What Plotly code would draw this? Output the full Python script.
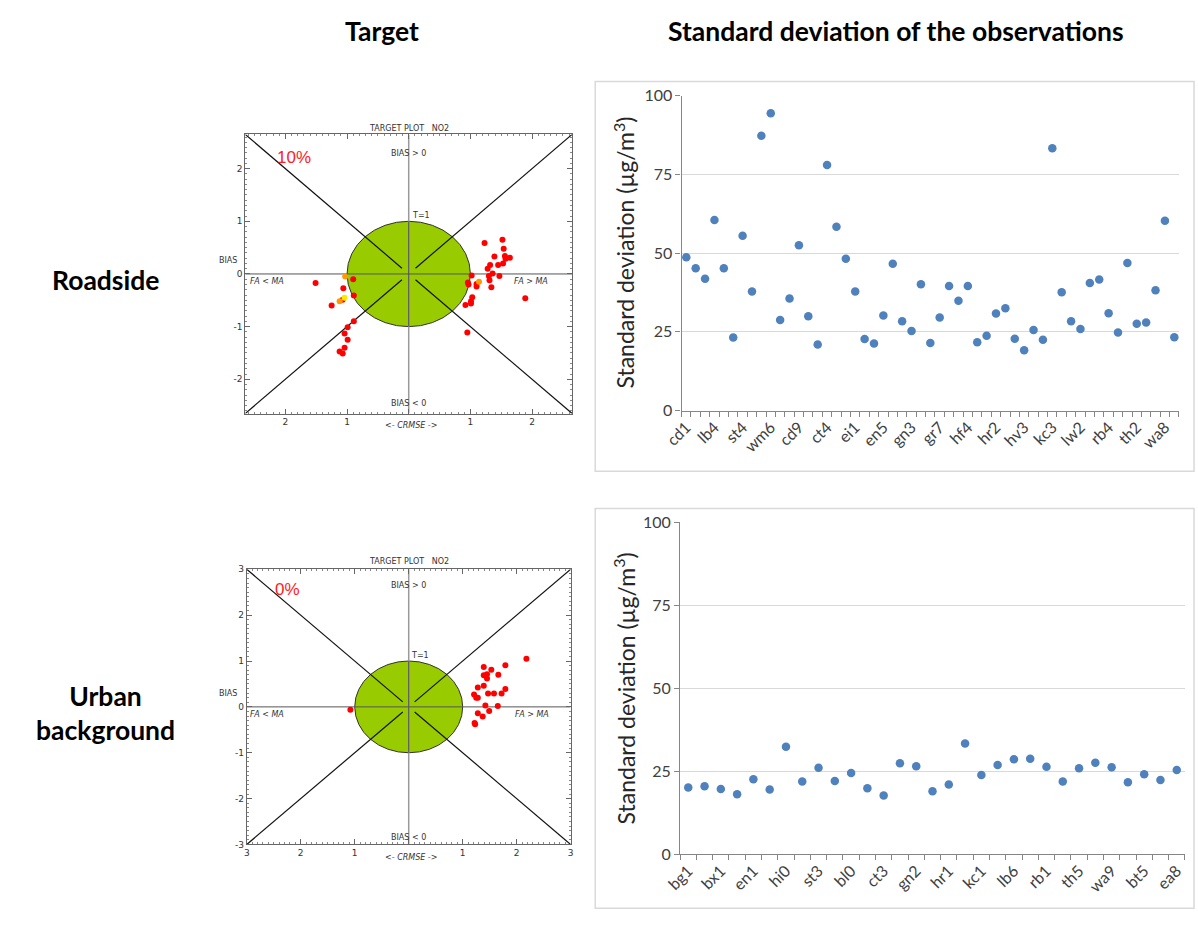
import plotly.graph_objects as go

W, H = 1198, 925


def fx(p):
    return p / W


def fy(p):
    return 1 - p / H


# ---------------- Data ----------------
# Roadside target plot (CRMSE signed, BIAS)
rs_red_x = [-1.51, -0.90, -1.06, -0.89, -1.07, -1.25, -0.89, -0.99, -1.04, -0.99, -1.04, -1.12, -1.07,
            1.23, 1.52, 1.54, 1.39, 1.56, 1.57, 1.64, 1.53, 1.45, 1.32, 1.28, 1.36, 1.30, 1.47, 1.02,
            1.31, 1.34, 1.10, 1.10, 0.96, 0.97, 1.03, 1.01, 1.01, 0.92, 1.89, 0.95]
rs_red_y = [-0.17, -0.10, -0.27, -0.41, -0.49, -0.60, -0.90, -1.01, -1.13, -1.25, -1.40, -1.47, -1.51,
            0.59, 0.65, 0.48, 0.33, 0.34, 0.29, 0.31, 0.20, 0.17, 0.17, 0.10, 0.01, -0.04, -0.04, -0.03,
            -0.12, -0.25, -0.19, -0.24, -0.16, -0.20, -0.44, -0.52, -0.56, -0.59, -0.46, -1.11]
rs_orange_x = [-1.03, -1.12, 1.14]
rs_orange_y = [-0.05, -0.52, -0.15]
rs_yellow_x = [-1.04]
rs_yellow_y = [-0.45]

# Urban background target plot
ub_red_x = [-1.08, 2.18, 1.79, 1.39, 1.53, 1.45, 1.39, 1.45, 1.66, 1.39, 1.28, 1.79, 1.21, 1.25,
            1.28, 1.47, 1.58, 1.72, 1.42, 1.65, 1.49, 1.28, 1.37, 1.22, 1.23]
ub_red_y = [-0.06, 1.05, 0.91, 0.87, 0.81, 0.71, 0.69, 0.62, 0.70, 0.46, 0.42, 0.39, 0.27, 0.20,
            0.20, 0.29, 0.29, 0.29, 0.03, 0.02, -0.09, -0.14, -0.21, -0.35, -0.38]

# Roadside standard deviation of observations
rs_tick_labels = ["cd1", "lb4", "st4", "wm6", "cd9", "ct4", "ei1", "en5", "gn3", "gr7",
                  "hf4", "hr2", "hv3", "kc3", "lw2", "rb4", "th2", "wa8"]
rs_sd = [48.7, 45.2, 41.9, 60.5, 45.2, 23.2, 55.5, 37.8, 87.3, 94.4,
         28.8, 35.6, 52.5, 30.0, 21.0, 78.0, 58.4, 48.2, 37.8, 22.7,
         21.3, 30.2, 46.6, 28.4, 25.3, 40.1, 21.5, 29.6, 39.6, 34.9,
         39.6, 21.7, 23.8, 30.8, 32.5, 22.8, 19.2, 25.6, 22.5, 83.3,
         37.6, 28.4, 25.9, 40.5, 41.6, 30.9, 24.8, 46.9, 27.6, 28.0,
         38.2, 60.3, 23.3]
rs_label_step = 3

# Urban background standard deviation of observations
ub_tick_labels = ["bg1", "bx1", "en1", "hi0", "st3", "bl0", "ct3", "gn2", "hr1", "kc1",
                  "lb6", "rb1", "th5", "wa9", "bt5", "ea8"]
ub_sd = [20.1, 20.5, 19.7, 18.1, 22.6, 19.5, 32.4, 21.9, 26.1, 22.1,
         24.5, 19.9, 17.7, 27.4, 26.5, 19.0, 21.0, 33.4, 23.9, 26.9,
         28.6, 28.8, 26.4, 21.9, 25.9, 27.6, 26.2, 21.7, 24.1, 22.4,
         25.4]
ub_label_step = 2

# ---------------- Figure ----------------
fig = go.Figure()

RED = "#FF0000"
ORANGE = "#FF9900"
YELLOW = "#FFE800"
BLUE = "#4F81BD"

# target traces
for xs, ys, c, ax in [(rs_red_x, rs_red_y, RED, ("x", "y")),
                      (rs_orange_x, rs_orange_y, ORANGE, ("x", "y")),
                      (rs_yellow_x, rs_yellow_y, YELLOW, ("x", "y")),
                      (ub_red_x, ub_red_y, RED, ("x2", "y2"))]:
    fig.add_trace(go.Scatter(x=xs, y=ys, mode="markers", xaxis=ax[0], yaxis=ax[1],
                             marker=dict(color=c, size=6, line=dict(width=0)),
                             showlegend=False, hoverinfo="skip"))

# std dev traces
fig.add_trace(go.Scatter(x=list(range(len(rs_sd))), y=rs_sd, mode="markers", xaxis="x3", yaxis="y3",
                         marker=dict(color=BLUE, size=8.5), showlegend=False))
fig.add_trace(go.Scatter(x=list(range(len(ub_sd))), y=ub_sd, mode="markers", xaxis="x4", yaxis="y4",
                         marker=dict(color=BLUE, size=8.5), showlegend=False))

shapes = []
annotations = []


def target_axes(R, ticks, xdom, ydom):
    xa = dict(domain=[fx(xdom[0]), fx(xdom[1])], range=[-R, R], showgrid=False, zeroline=False,
              showline=True, linecolor="#666", linewidth=1, mirror="ticks",
              ticks="inside", ticklen=5, tickcolor="#666",
              tickvals=ticks, ticktext=[str(abs(t)) if t != 0 else "" for t in ticks],
              tickfont=dict(family="DejaVu Sans", size=9, color="#333"),
              minor=dict(tickmode="linear", tick0=0, dtick=0.1, ticks="inside", ticklen=2, tickcolor="#888"),
              fixedrange=True)
    ya = dict(domain=[fy(ydom[1]), fy(ydom[0])], range=[-R, R], showgrid=False, zeroline=False,
              showline=True, linecolor="#666", linewidth=1, mirror="ticks",
              ticks="inside", ticklen=5, tickcolor="#666",
              tickvals=ticks, ticktext=[str(t) for t in ticks],
              tickfont=dict(family="DejaVu Sans", size=9, color="#333"),
              minor=dict(tickmode="linear", tick0=0, dtick=0.1, ticks="inside", ticklen=2, tickcolor="#888"),
              fixedrange=True)
    return xa, ya


def target_shapes(R, xr, yr):
    s = []
    s.append(dict(type="circle", xref=xr, yref=yr, x0=-1, x1=1, y0=-1, y1=1,
                  fillcolor="#99CC00", line=dict(color="#333", width=1), layer="below"))
    s.append(dict(type="line", xref=xr, yref=yr, x0=0, x1=0, y0=-R, y1=R,
                  line=dict(color="#9a9a9a", width=1.5), layer="below"))
    s.append(dict(type="line", xref=xr, yref=yr, x0=0, x1=0, y0=-1, y1=1,
                  line=dict(color="#555", width=1), layer="below"))
    s.append(dict(type="line", xref=xr, yref=yr, x0=-R, x1=R, y0=0, y1=0,
                  line=dict(color="#555", width=1), layer="below"))
    g = 0.11
    for sx, sy in [(-1, 1), (1, 1), (-1, -1), (1, -1)]:
        s.append(dict(type="line", xref=xr, yref=yr, x0=sx * R, y0=sy * R, x1=sx * g, y1=sy * g,
                      line=dict(color="#111", width=1.2), layer="below"))
    return s


def small_txt(x, y, text, xr, yr, size=8, color="#333", italic=False, family="DejaVu Sans"):
    return dict(x=x, y=y, xref=xr, yref=yr, text=text, showarrow=False,
                xanchor="center", yanchor="middle",
                font=dict(family=family, size=size, color=color,
                          style="italic" if italic else "normal"))


def paper_txt(px, py, text, size=8, color="#333", family="DejaVu Sans", bold=False, angle=0, italic=False):
    return dict(x=fx(px), y=fy(py), xref="paper", yref="paper", text=text, showarrow=False,
                textangle=angle, xanchor="center", yanchor="middle",
                font=dict(family=family, size=size, color=color, weight="bold" if bold else "normal",
                          style="italic" if italic else "normal"))


# Target 1 (roadside)
R1 = 2.65
xa1, ya1 = target_axes(R1, [-2, -1, 0, 1, 2], (230.5, 563.5), (127, 412))
shapes += target_shapes(R1, "x", "y")
annotations += [
    small_txt(-1.86, 2.22, "10%", "x", "y", size=17, color="#FF2020", family="Liberation Sans"),
    small_txt(0, 2.28, "BIAS > 0", "x", "y"),
    small_txt(0, -2.46, "BIAS < 0", "x", "y"),
    small_txt(0.2, 1.11, "T=1", "x", "y"),
    small_txt(-2.3, -0.14, "FA &lt; MA", "x", "y", italic=True),
    small_txt(1.98, -0.14, "FA &gt; MA", "x", "y", italic=True),
    paper_txt(397, 121, "TARGET PLOT   NO2"),
    paper_txt(213, 256, "BIAS"),
    paper_txt(399, 424, "&lt;- CRMSE -&gt;", italic=True),
]

# Target 2 (urban background)
R2 = 3.0
xa2, ya2 = target_axes(R2, [-3, -2, -1, 0, 1, 2, 3], (232, 562), (571, 852))
shapes += target_shapes(R2, "x2", "y2")
annotations += [
    small_txt(-2.25, 2.56, "0%", "x2", "y2", size=17, color="#FF2020", family="Liberation Sans"),
    small_txt(0, 2.64, "BIAS > 0", "x2", "y2"),
    small_txt(0, -2.85, "BIAS < 0", "x2", "y2"),
    small_txt(0.21, 1.11, "T=1", "x2", "y2"),
    small_txt(-2.63, -0.17, "FA &lt; MA", "x2", "y2", italic=True),
    small_txt(2.29, -0.17, "FA &gt; MA", "x2", "y2", italic=True),
    paper_txt(397, 563, "TARGET PLOT   NO2"),
    paper_txt(213, 698, "BIAS"),
    paper_txt(399, 865, "&lt;- CRMSE -&gt;", italic=True),
]


def sd_axes(n, labels, step, xdom, ydom):
    xa = dict(domain=[fx(xdom[0]), fx(xdom[1])], range=[-0.5, n - 0.5], showgrid=False, zeroline=False,
              showline=True, linecolor="#868686", linewidth=1.3,
              tickmode="array", tickvals=list(range(0, n, step))[:len(labels)], ticktext=labels,
              ticks="", tickangle=-45,
              tickfont=dict(family="Lato", size=16, color="#404040"),
              minor=dict(tickmode="linear", tick0=-0.5, dtick=1, ticks="outside", ticklen=5,
                         tickcolor="#868686", tickwidth=1.3, showgrid=False),
              fixedrange=True)
    ya = dict(domain=[fy(ydom[1]), fy(ydom[0])], range=[0, 100], tickvals=[0, 25, 50, 75, 100],
              showgrid=True, gridcolor="#D9D9D9", gridwidth=1, zeroline=False,
              showline=True, linecolor="#868686", linewidth=1.3,
              ticks="outside", ticklen=5, tickcolor="#868686",
              tickfont=dict(family="Lato", size=16, color="#404040"),
              fixedrange=True)
    return xa, ya


xa3, ya3 = sd_axes(len(rs_sd), rs_tick_labels, rs_label_step, (675, 1181.7), (87.5, 409))
xa4, ya4 = sd_axes(len(ub_sd), ub_tick_labels, ub_label_step, (673.5, 1187.7), (523, 862))

# chart borders
shapes += [
    dict(type="rect", xref="paper", yref="paper", x0=fx(587), x1=fx(1197), y0=fy(471), y1=fy(73),
         line=dict(color="#D9D9D9", width=1.5), fillcolor="rgba(0,0,0,0)"),
    dict(type="rect", xref="paper", yref="paper", x0=fx(587), x1=fx(1197), y0=fy(917), y1=fy(509),
         line=dict(color="#D9D9D9", width=1.5), fillcolor="rgba(0,0,0,0)"),
]

ytitle = "Standard deviation (µg/m<sup>3</sup>)"
annotations += [
    paper_txt(617, 248, ytitle, size=23, color="#262626", family="Lato", angle=-90),
    paper_txt(617, 693, ytitle, size=23, color="#262626", family="Lato", angle=-90),
    paper_txt(370, 21, "Target", size=26.5, color="#000", family="Lato", bold=True),
    paper_txt(893, 21, "Standard deviation of the observations", size=26.5, color="#000", family="Lato", bold=True),
    paper_txt(88, 276, "Roadside", size=26.5, color="#000", family="Lato", bold=True),
    paper_txt(88, 718, "Urban<br>background", size=26.5, color="#000", family="Lato", bold=True),
]

fig.update_layout(
    width=W, height=H, margin=dict(l=0, r=0, t=0, b=0),
    paper_bgcolor="white", plot_bgcolor="white",
    xaxis=xa1, yaxis=ya1, xaxis2=dict(xa2, anchor="y2"), yaxis2=dict(ya2, anchor="x2"),
    xaxis3=dict(xa3, anchor="y3"), yaxis3=dict(ya3, anchor="x3"),
    xaxis4=dict(xa4, anchor="y4"), yaxis4=dict(ya4, anchor="x4"),
    shapes=shapes, annotations=annotations, showlegend=False, hovermode=False,
)
fig.update_layout(xaxis=dict(anchor="y"), yaxis=dict(anchor="x"))

fig.write_html("out.html",
               post_script="document.body.style.margin='0';document.body.style.padding='0';"
                           "document.body.style.overflow='hidden';")
